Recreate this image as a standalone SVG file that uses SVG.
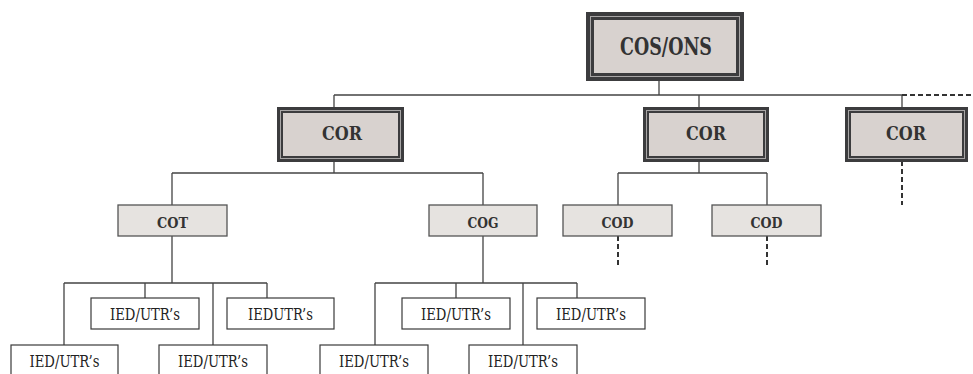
<svg xmlns="http://www.w3.org/2000/svg" width="973" height="374" viewBox="0 0 973 374">
<style>
.bg{fill:#ffffff}
.outer{fill:#3c3c3e}
.thin{fill:none;stroke:#a8a6a6;stroke-width:1}
.fillA{fill:#d8d2cf}
.mid{fill:#e6e3e0;stroke:#555;stroke-width:1.3}
.leaf{fill:#ffffff;stroke:#3a3a3a;stroke-width:1.2}
.ln{fill:none;stroke:#444;stroke-width:1.3}
.dash{fill:none;stroke:#333;stroke-width:2;stroke-dasharray:5 3}
.tb{font-weight:bold;fill:#333;text-anchor:middle}
.tr{font-size:16px;fill:#222;text-anchor:middle}
</style>
<rect class="bg" x="0" y="0" width="973" height="374"/>
<g id="connectors">
<path class="ln" d="M659 81V95M334 95H902M334 95V108M699 95V108M902 95V108"/>
<path class="dash" d="M902 95H973M902 161V205M618 236V268M767 236V268"/>
<path class="ln" d="M334 161V173M172 173H483M172 173V205M483 173V205"/>
<path class="ln" d="M699 161V173M618 173H767M618 173V205M767 173V205"/>
<path class="ln" d="M172 236V283M64 283H267M64 283V345M145 283V298M213 283V345M267 283V298"/>
<path class="ln" d="M483 236V283M375 283H577M375 283V345M456 283V298M523 283V345M577 283V298"/>
</g>
<g font-family="DejaVu Serif, serif">
<g id="cos-ons">
<rect class="outer" x="586" y="12" width="158" height="69"/>
<rect class="thin" x="590.5" y="16.5" width="149" height="60"/>
<rect class="fillA" x="594" y="20" width="142" height="53"/>
<text class="tb" x="666" y="55" font-size="24" textLength="92" lengthAdjust="spacingAndGlyphs">COS/ONS</text>
</g>
<g id="cor1">
<rect class="outer" x="277" y="107" width="127" height="55"/>
<rect class="thin" x="280.5" y="110.5" width="120" height="48"/>
<rect class="fillA" x="283" y="113" width="115" height="43"/>
<text class="tb" x="342" y="140" font-size="19" textLength="40" lengthAdjust="spacingAndGlyphs">COR</text>
</g>
<g id="cor2">
<rect class="outer" x="643" y="107" width="126" height="55"/>
<rect class="thin" x="646.5" y="110.5" width="119" height="48"/>
<rect class="fillA" x="649" y="113" width="114" height="43"/>
<text class="tb" x="706" y="140" font-size="19" textLength="40" lengthAdjust="spacingAndGlyphs">COR</text>
</g>
<g id="cor3">
<rect class="outer" x="845" y="107" width="123" height="55"/>
<rect class="thin" x="848.5" y="110.5" width="116" height="48"/>
<rect class="fillA" x="851" y="113" width="111" height="43"/>
<text class="tb" x="906" y="140" font-size="19" textLength="40" lengthAdjust="spacingAndGlyphs">COR</text>
</g>
<g id="cot">
<rect class="mid" x="118" y="205" width="109" height="31"/>
<text class="tb" x="172.5" y="228" font-size="15" textLength="31" lengthAdjust="spacingAndGlyphs">COT</text>
</g>
<g id="cog">
<rect class="mid" x="429" y="205" width="108" height="31"/>
<text class="tb" x="483" y="228" font-size="15" textLength="31" lengthAdjust="spacingAndGlyphs">COG</text>
</g>
<g id="cod1">
<rect class="mid" x="563" y="205" width="109" height="31"/>
<text class="tb" x="617.5" y="228" font-size="15" textLength="32" lengthAdjust="spacingAndGlyphs">COD</text>
</g>
<g id="cod2">
<rect class="mid" x="712" y="205" width="109" height="31"/>
<text class="tb" x="766.5" y="228" font-size="15" textLength="32" lengthAdjust="spacingAndGlyphs">COD</text>
</g>
<g id="ied1">
<rect class="leaf" x="91" y="298" width="108" height="31"/>
<text class="tr" x="145" y="320" font-size="15" textLength="70" lengthAdjust="spacingAndGlyphs">IED/UTR’s</text>
</g>
<g id="ied2">
<rect class="leaf" x="227" y="298" width="107" height="31"/>
<text class="tr" x="280.5" y="320" font-size="15" textLength="65" lengthAdjust="spacingAndGlyphs">IEDUTR’s</text>
</g>
<g id="ied3">
<rect class="leaf" x="11" y="345" width="107" height="40"/>
<text class="tr" x="64.5" y="367" font-size="15" textLength="70" lengthAdjust="spacingAndGlyphs">IED/UTR’s</text>
</g>
<g id="ied4">
<rect class="leaf" x="159" y="345" width="108" height="40"/>
<text class="tr" x="213" y="367" font-size="15" textLength="70" lengthAdjust="spacingAndGlyphs">IED/UTR’s</text>
</g>
<g id="ied5">
<rect class="leaf" x="402" y="298" width="108" height="31"/>
<text class="tr" x="456" y="320" font-size="15" textLength="70" lengthAdjust="spacingAndGlyphs">IED/UTR’s</text>
</g>
<g id="ied6">
<rect class="leaf" x="537" y="298" width="108" height="31"/>
<text class="tr" x="591" y="320" font-size="15" textLength="70" lengthAdjust="spacingAndGlyphs">IED/UTR’s</text>
</g>
<g id="ied7">
<rect class="leaf" x="320" y="345" width="108" height="40"/>
<text class="tr" x="374" y="367" font-size="15" textLength="70" lengthAdjust="spacingAndGlyphs">IED/UTR’s</text>
</g>
<g id="ied8">
<rect class="leaf" x="469" y="345" width="108" height="40"/>
<text class="tr" x="523" y="367" font-size="15" textLength="70" lengthAdjust="spacingAndGlyphs">IED/UTR’s</text>
</g>
</g>
</svg>
